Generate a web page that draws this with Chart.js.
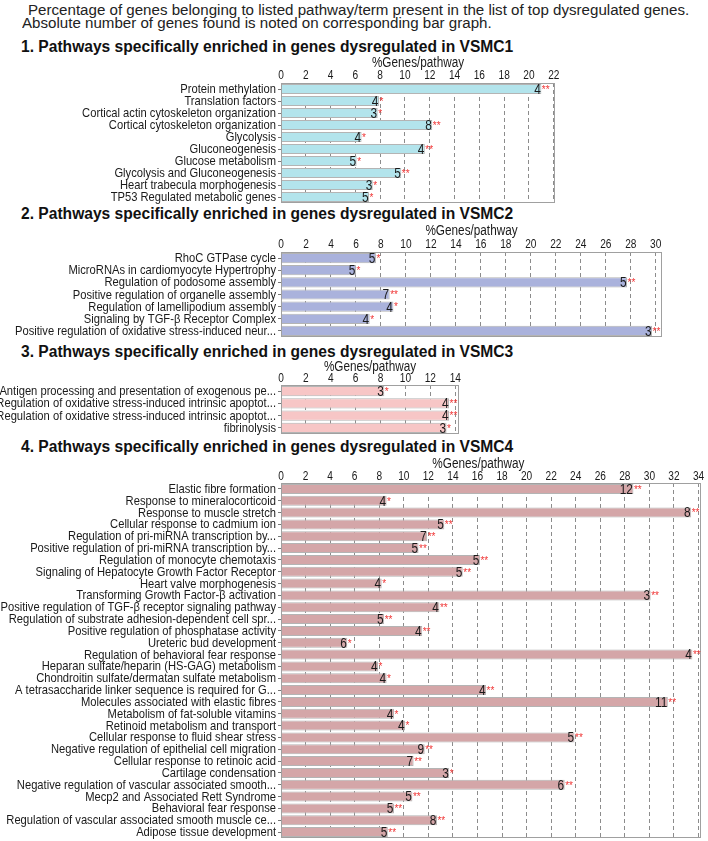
<!DOCTYPE html>
<html><head><meta charset="utf-8">
<script src="https://cdn.jsdelivr.net/npm/chart.js@4.4.0/dist/chart.umd.min.js"></script>
<style>
html,body{margin:0;padding:0;background:#fff;}
#page{position:relative;width:708px;height:841px;overflow:hidden;background:#fff;}
.hdr{position:absolute;font-family:"Liberation Sans",Arial,sans-serif;font-size:15.5px;color:#222;white-space:nowrap;line-height:16px;transform-origin:0 0;transform:scaleX(0.975);}
.ttl{position:absolute;left:21px;font-family:"Liberation Sans",Arial,sans-serif;font-weight:bold;font-size:15.6px;color:#111;white-space:nowrap;line-height:18px;}
canvas{position:absolute;left:0;}
</style></head><body>
<div id="page">
<div class="hdr" style="left:28px;top:2px;">Percentage of genes belonging to listed pathway/term present in the list of top dysregulated genes.</div>
<div class="hdr" style="left:22px;top:15px;">Absolute number of genes found is noted on corresponding bar graph.</div>
<div class="ttl" style="top:38px;">1. Pathways specifically enriched in genes dysregulated in VSMC1</div>
<div class="ttl" style="top:205px;">2. Pathways specifically enriched in genes dysregulated in VSMC2</div>
<div class="ttl" style="top:343px;">3. Pathways specifically enriched in genes dysregulated in VSMC3</div>
<div class="ttl" style="top:438px;">4. Pathways specifically enriched in genes dysregulated in VSMC4</div>
<canvas id="c1"></canvas><canvas id="c2"></canvas><canvas id="c3"></canvas><canvas id="c4"></canvas>
</div>
<script>
// ---------- DATA ----------
const axisTitle = '%Genes/pathway';

const p1Labels = ['Protein methylation','Translation factors','Cortical actin cytoskeleton organization','Cortical cytoskeleton organization','Glycolysis','Gluconeogenesis','Glucose metabolism','Glycolysis and Gluconeogenesis','Heart trabecula morphogenesis','TP53 Regulated metabolic genes'];
const p1Values = [21.0, 7.9, 7.8, 12.2, 6.5, 11.6, 6.1, 9.7, 7.4, 7.1];
const p1Counts = [4, 4, 3, 8, 4, 4, 5, 5, 3, 5];
const p1Stars  = ['**','*','*','**','*','**','*','**','*','*'];
const p1Ticks  = [0,2,4,6,8,10,12,14,16,18,20,22];

const p2Labels = ['RhoC GTPase cycle','MicroRNAs in cardiomyocyte Hypertrophy','Regulation of podosome assembly','Positive regulation of organelle assembly','Regulation of lamellipodium assembly','Signaling by TGF-\u03B2 Receptor Complex','Positive regulation of oxidative stress-induced neur...'];
const p2Values = [7.6, 6.0, 27.7, 8.7, 9.0, 7.1, 29.7];
const p2Counts = [5, 5, 5, 7, 4, 4, 3];
const p2Stars  = ['*','*','**','**','*','*','**'];
const p2Ticks  = [0,2,4,6,8,10,12,14,16,18,20,22,24,26,28,30];

const p3Labels = ['Antigen processing and presentation of exogenous pe...','Regulation of oxidative stress-induced intrinsic apoptot...','Regulation of oxidative stress-induced intrinsic apoptot...','fibrinolysis'];
const p3Values = [8.3, 13.5, 13.5, 13.3];
const p3Counts = [3, 4, 4, 3];
const p3Stars  = ['*','**','**','*'];
const p3Ticks  = [0,2,4,6,8,10,12,14];

const p4Labels = ['Elastic fibre formation','Response to mineralocorticoid','Response to muscle stretch','Cellular response to cadmium ion','Regulation of pri-miRNA transcription by...','Positive regulation of pri-miRNA transcription by...','Regulation of monocyte chemotaxis','Signaling of Hepatocyte Growth Factor Receptor','Heart valve morphogenesis','Transforming Growth Factor-\u03B2 activation','Positive regulation of TGF-\u03B2 receptor signaling pathway','Regulation of substrate adhesion-dependent cell spr...','Positive regulation of phosphatase activity','Ureteric bud development','Regulation of behavioral fear response','Heparan sulfate/heparin (HS-GAG) metabolism','Chondroitin sulfate/dermatan sulfate metabolism','A tetrasaccharide linker sequence is required for G...','Molecules associated with elastic fibres','Metabolism of fat-soluble vitamins','Retinoid metabolism and transport','Cellular response to fluid shear stress','Negative regulation of epithelial cell migration','Cellular response to retinoic acid','Cartilage condensation','Negative regulation of vascular associated smooth...','Mecp2 and Associated Rett Syndrome','Behavioral fear response','Regulation of vascular associated smooth muscle ce...','Adipose tissue development'];
const p4Values = [28.7, 8.6, 33.4, 13.3, 11.9, 11.2, 16.2, 14.8, 8.2, 30.1, 12.9, 8.4, 11.5, 5.4, 33.5, 7.9, 8.6, 16.7, 31.5, 9.2, 10.1, 23.9, 11.7, 10.8, 13.7, 23.1, 10.7, 9.2, 12.7, 8.7];
const p4Counts = [12, 4, 8, 5, 7, 5, 5, 5, 4, 3, 4, 5, 4, 6, 4, 4, 4, 4, 11, 4, 4, 5, 9, 7, 3, 6, 5, 5, 8, 5];
const p4Stars  = ['**','*','**','**','**','**','**','**','*','**','**','**','**','*','**','*','*','**','**','*','*','**','**','**','*','**','**','**','**','**'];
const p4Ticks  = [0,2,4,6,8,10,12,14,16,18,20,22,24,26,28,30,32,34];

// ---------- STYLE / LAYOUT ----------
const FONT = 'Liberation Sans';

const boxPlugin = {
  id: 'boxFrame',
  afterDraw(chart){
    const a = chart.chartArea, ctx = chart.ctx;
    ctx.save(); ctx.strokeStyle = '#a0a0a0'; ctx.lineWidth = 1;
    ctx.strokeRect(Math.round(a.left)+0.5, Math.round(a.top)+0.5, Math.round(a.right-a.left)-1, Math.round(a.bottom-a.top)-1);
    ctx.restore();
  }
};

// draws axis texts (condensed) at positions given by the chart's own scales
const axisTextPlugin = {
  id: 'axisText',
  afterDraw(chart, args, o){
    const ctx = chart.ctx, xs = chart.scales.x, ys = chart.scales.y, a = chart.chartArea;
    ctx.save();
    ctx.fillStyle = '#1a1a1a';
    ctx.textBaseline = 'middle';
    // category labels
    ctx.font = '13px "' + FONT + '"'; ctx.textAlign = 'right';
    chart.data.labels.forEach((lab, i) => {
      const y = ys.getPixelForValue(i);
      ctx.save(); ctx.translate(a.left - 5, y + 0.5); ctx.scale(0.86, 1); ctx.fillText(lab, 0, 0); ctx.restore();
    });
    // value ticks
    ctx.font = '13.5px "' + FONT + '"'; ctx.textAlign = 'center';
    xs.ticks.forEach(t => {
      const x = xs.getPixelForValue(t.value);
      ctx.save(); ctx.translate(x, a.top - o.tickGap); ctx.scale(0.75, 1); ctx.fillText(String(t.value), 0, 0); ctx.restore();
    });
    // axis title
    ctx.font = '14px "' + FONT + '"';
    ctx.save(); ctx.translate(a.left + (a.right - a.left) * o.titleFrac, a.top - o.titleGap); ctx.scale(0.84, 1); ctx.fillText(axisTitle, 0, 0); ctx.restore();
    ctx.restore();
  }
};

const labelPlugin = {
  id: 'barLabels',
  afterDraw(chart, args, opts){
    const ctx = chart.ctx, meta = chart.getDatasetMeta(0);
    meta.data.forEach((bar, i) => {
      ctx.save();
      ctx.textBaseline = 'middle';
      ctx.font = '14px "' + FONT + '"'; ctx.fillStyle = '#1a1a1a'; ctx.textAlign = 'right';
      ctx.save(); ctx.translate(bar.x - 0.5, bar.y + 1); ctx.scale(0.85, 1); ctx.fillText(String(opts.counts[i]), 0, 0); ctx.restore();
      ctx.font = '10px "' + FONT + '"'; ctx.fillStyle = '#f03535'; ctx.textAlign = 'left';
      ctx.fillText(opts.stars[i], bar.x + 0.5, bar.y + 1);
      ctx.restore();
    });
  }
};

function makePanel(id, labels, values, counts, stars, ticks, xmax, color, box){
  const cv = document.getElementById(id);
  const top = box.top - 30;
  cv.width = 708; cv.height = box.bottom - top + 1;
  cv.style.top = top + 'px';
  new Chart(cv, {
    type: 'bar',
    data: { labels: labels, datasets: [{ data: values, backgroundColor: color, borderColor: '#b4b4b4', borderWidth: 1, barPercentage: 0.84, categoryPercentage: 1 }] },
    options: {
      indexAxis: 'y', responsive: false, animation: false, devicePixelRatio: 1,
      layout: { padding: { left: 0, right: 708 - box.right, top: 0, bottom: 1 } },
      plugins: { legend: { display: false }, tooltip: { enabled: false },
        barLabels: { counts: counts, stars: stars },
        axisText: { tickGap: box.tickGap, titleGap: box.titleGap, titleFrac: box.titleFrac } },
      scales: {
        x: {
          position: 'top', min: 0, max: xmax, z: 1,
          afterBuildTicks: s => { s.ticks = ticks.map(v => ({ value: v })); },
          afterFit: s => { s.height = 30; s.paddingLeft = 0; s.paddingRight = 0; },
          grid: { color: '#8c8c8c', lineWidth: 1, drawTicks: false },
          border: { display: false, dash: [4, 3] },
          ticks: { display: false }
        },
        y: {
          afterFit: s => { s.width = box.left; s.paddingTop = 0; s.paddingBottom = 0; },
          grid: { display: true, drawOnChartArea: false, drawTicks: true, tickLength: 3, color: '#777', offset: false },
          border: { display: false },
          ticks: { display: false }
        }
      }
    },
    plugins: [boxPlugin, axisTextPlugin, labelPlugin]
  });
}

makePanel('c1', p1Labels, p1Values, p1Counts, p1Stars, p1Ticks, 22.1, '#b3e4ec', {left: 281, right: 555, top: 83, bottom: 203, tickGap: 8, titleGap: 20, titleFrac: 0.5});
makePanel('c2', p2Labels, p2Values, p2Counts, p2Stars, p2Ticks, 30.5, '#aab2dc', {left: 281, right: 662, top: 252, bottom: 337, tickGap: 8, titleGap: 21, titleFrac: 0.5});
makePanel('c3', p3Labels, p3Values, p3Counts, p3Stars, p3Ticks, 14.3, '#f7c6c6', {left: 281, right: 459, top: 385, bottom: 434, tickGap: 7, titleGap: 18, titleFrac: 0.5});
makePanel('c4', p4Labels, p4Values, p4Counts, p4Stars, p4Ticks, 34.2, '#d4a6a8', {left: 281, right: 701, top: 483, bottom: 838, tickGap: 7, titleGap: 19, titleFrac: 0.47});
</script>
</body></html>
